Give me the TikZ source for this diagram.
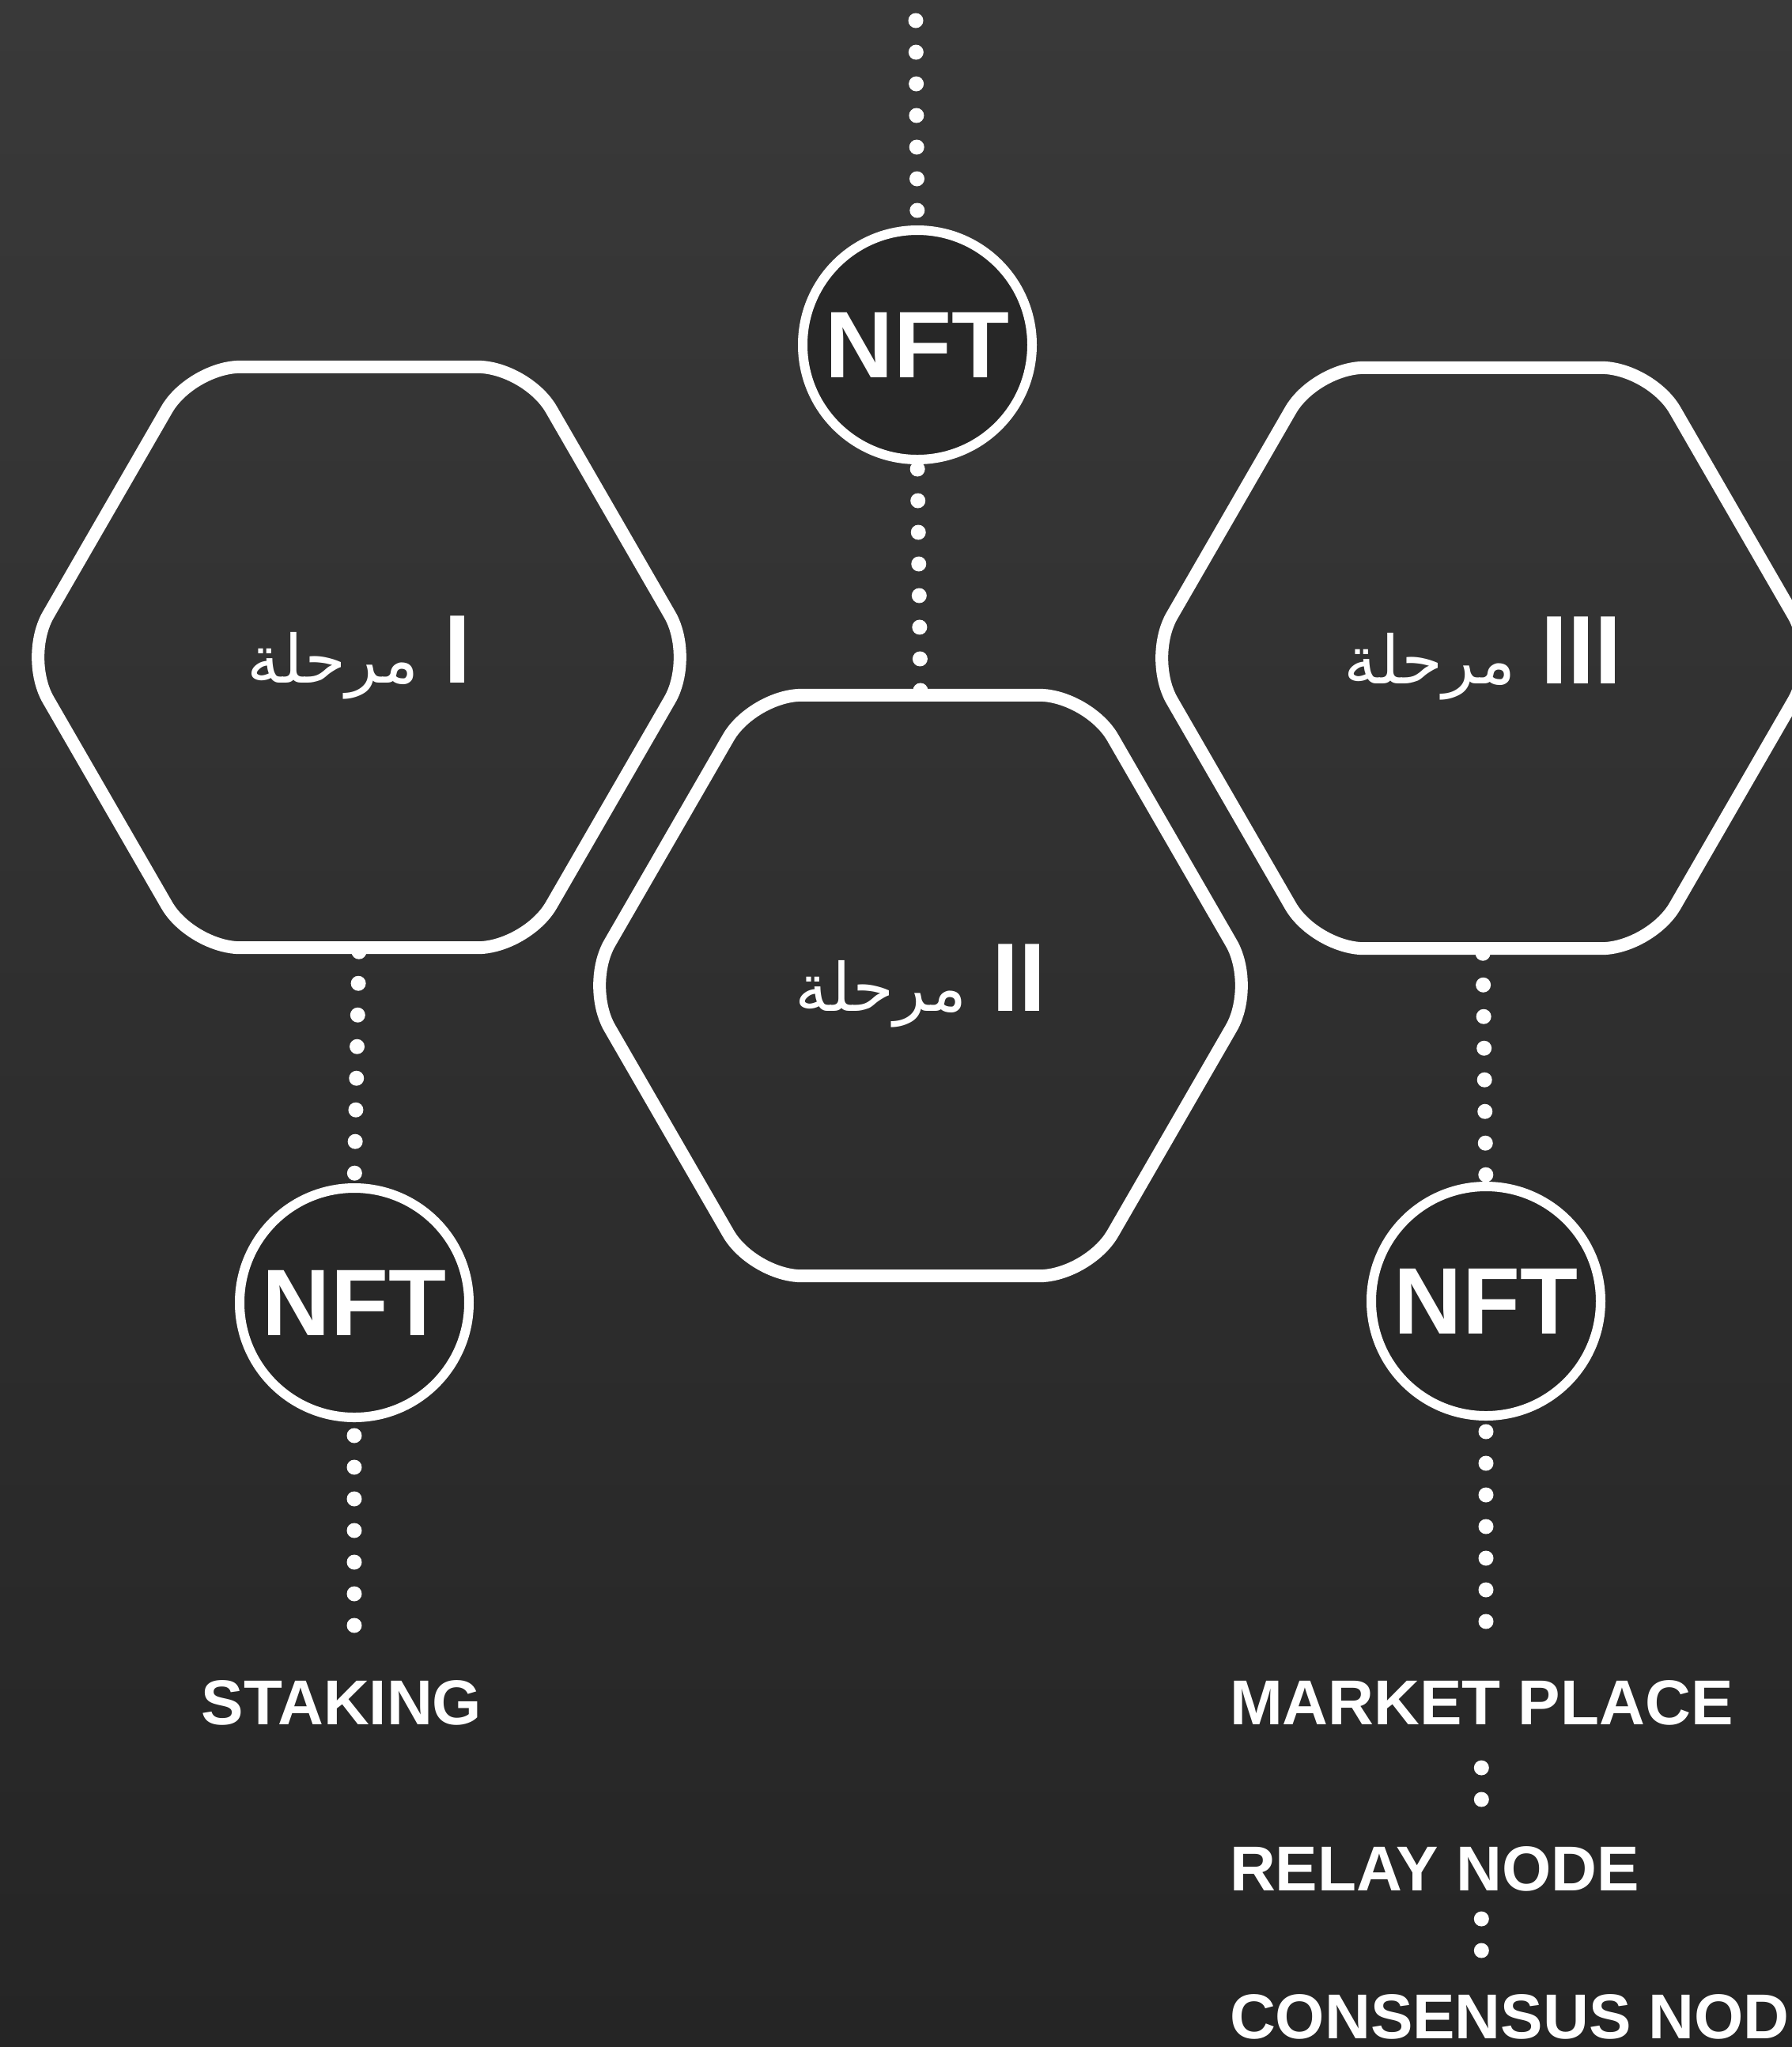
\documentclass[tikz,border=0pt]{standalone}
\usepackage{fontspec}
\setmainfont{Liberation Sans}
\newfontfamily\arabicfont[Script=Arabic]{DejaVu Sans}
\TeXXeTstate=1
\usepackage{tikz}
\usetikzlibrary{shapes.geometric}
\definecolor{stagetop}{RGB}{57, 57, 57}
\definecolor{stagemid}{RGB}{41, 41, 41}
\definecolor{stagebot}{RGB}{37, 37, 37}
\definecolor{nftfill}{RGB}{39, 39, 39}

% Arabic word on the left, roman numeral on the right
\newcommand{\stagetext}[1]{{\arabicfont\fontsize{24}{28}\selectfont\beginR مرحلة\endR}\hspace{0.32cm}{\fontsize{35}{40}\selectfont\bfseries #1}}

\begin{document}
\begin{tikzpicture}[
    every node/.style={outer sep=0pt, text=white},
    hexblock/.style={regular polygon, regular polygon sides=6, minimum size=8.48cm, draw=white, line width=0.16cm, rounded corners=0.62cm, inner sep=0pt},
    nftcircle/.style={circle, draw=white, fill=nftfill, line width=0.12cm, minimum size=2.9cm, inner sep=0pt, font=\fontsize{34}{40}\selectfont\bfseries},
    stagelabel/.style={font=\fontsize{22.8}{26}\selectfont\bfseries, inner sep=0pt, text height=0.56cm, text depth=0pt, anchor=base west},
    dotline/.style={white, line width=0.19cm, line cap=round, dash pattern=on 0pt off 0.4cm}
]
    \useasboundingbox (0,0) rectangle (22.66,-25.88);
    \clip (0,0) rectangle (22.66,-25.88);
    \shade[top color=stagetop, middle color=stagemid, bottom color=stagebot] (0,0) rectangle (22.66,-25.88);

    \node[hexblock] (stageI) at (4.54,-8.31) {\stagetext{I}};
    \node[hexblock] (stageII) at (11.64,-12.46) {\stagetext{II}};
    \node[hexblock] (stageIII) at (18.75,-8.32) {\stagetext{III}};

    \node[nftcircle] (nftTop) at (11.60,-4.36) {NFT};
    \node[nftcircle] (nftLeft) at (4.48,-16.47) {NFT};
    \node[nftcircle] (nftRight) at (18.79,-16.45) {NFT};

    \node[stagelabel, anchor=base] (staking) at (4.32,-21.80) {STAKING};
    \node[stagelabel] (market) at (15.55,-21.80) {MARKET PLACE};
    \node[stagelabel] (relay) at (15.55,-23.90) {RELAY NODE};
    \node[stagelabel] (consensus) at (15.55,-25.77) {CONSENSUS NODE};

    \coordinate (topEdge) at (11.58,-0.26);

    \draw[dotline, shorten >=0.24cm] (topEdge) -- (nftTop.north);
    \draw[dotline, shorten <=0.12cm, shorten >=0.03cm] (nftTop.south) -- (stageII.north);
    \draw[dotline, shorten <=0.05cm, shorten >=0.18cm] (stageI.south) -- (nftLeft.north);
    \draw[dotline, shorten <=0.23cm, shorten >=0.67cm] (nftLeft.south) -- (nftLeft.south |- staking.north);
    \draw[dotline, shorten <=0.06cm, shorten >=0.14cm] (stageIII.south) -- (nftRight.north);
    \draw[dotline, shorten <=0.20cm, shorten >=0.72cm] (nftRight.south) -- (nftRight.south |- market.north);
    \draw[dotline, shorten <=0.55cm, shorten >=0.57cm] (market.south) -- (market.south |- relay.north);
    \draw[dotline, shorten <=0.36cm, shorten >=0.53cm] (relay.south -| market.south) -- (consensus.north -| market.south);
\end{tikzpicture}
\end{document}
